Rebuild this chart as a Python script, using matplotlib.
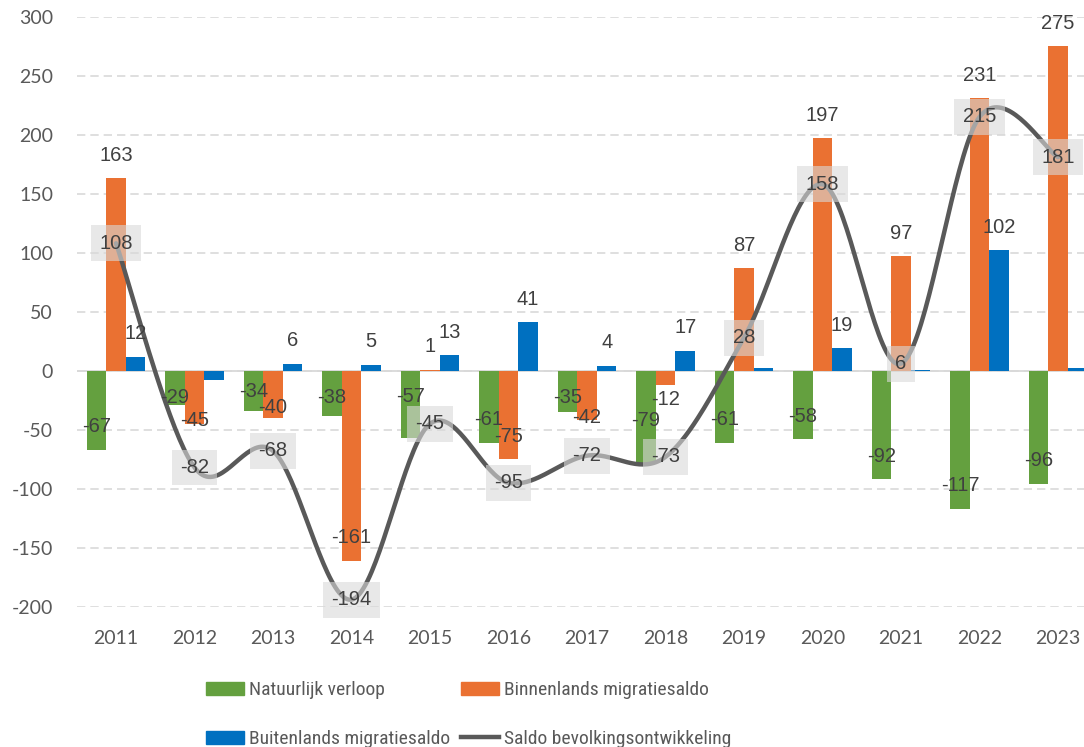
import numpy as np
import matplotlib.pyplot as plt
from matplotlib import font_manager as fm
from matplotlib.patches import Patch
from matplotlib.lines import Line2D

plt.rcParams['axes.unicode_minus'] = False

# Data
years = ['2011', '2012', '2013', '2014', '2015', '2016', '2017',
         '2018', '2019', '2020', '2021', '2022', '2023']
natuurlijk = [-67, -29, -34, -38, -57, -61, -35, -79, -61, -58, -92, -117, -96]
binnenlands = [163, -45, -40, -161, 1, -75, -42, -12, 87, 197, 97, 231, 275]
buitenlands = [12, -8, 6, 5, 13, 41, 4, 17, 2, 19, 1, 102, 2]
saldo = [108, -82, -68, -194, -45, -95, -72, -73, 28, 158, 6, 215, 181]

# labels that are not shown in the original
buiten_hidden = ['2012', '2019', '2021', '2023']

# colours
c_green = '#64A03F'
c_orange = '#EA7132'
c_blue = '#0070C0'
c_line = '#595959'
c_text = '#404040'

# label nudges (pixels above bar end) where Excel moved them around
default_off = 23
nudge = {
    ('nat', '2012'): 7, ('nat', '2013'): 19, ('nat', '2014'): 18,
    ('nat', '2015'): 41, ('nat', '2017'): 15, ('nat', '2018'): 43,
    ('bin', '2012'): 3, ('bin', '2013'): 10, ('bin', '2017'): 3,
    ('bin', '2018'): -15,
}


def narrow_font():
    # legend in the original uses a narrow face; take whatever is installed
    fonts = fm.fontManager.ttflist
    names = {f.name for f in fonts}
    for nm in ['Liberation Sans Narrow', 'Roboto Condensed', 'Open Sans Condensed',
               'Noto Sans Condensed', 'Arial Narrow']:
        if nm in names:
            return {'family': nm, 'size': 14}
    return {'family': 'Roboto', 'size': 12}


def smooth_curve(xs, ys, n=40):
    # Catmull-Rom style bezier, similar to Excel's smoothed line
    p = np.column_stack([xs, ys]).astype(float)
    p = np.vstack([p[0], p, p[-1]])
    out = []
    for i in range(1, len(p) - 2):
        p0, p1, p2, p3 = p[i - 1], p[i], p[i + 1], p[i + 2]
        c1 = p1 + (p2 - p0) / 6
        c2 = p2 - (p3 - p1) / 6
        t = np.linspace(0, 1, n)[:, None]
        seg = ((1 - t) ** 3 * p1 + 3 * (1 - t) ** 2 * t * c1
               + 3 * (1 - t) * t ** 2 * c2 + t ** 3 * p2)
        out.append(seg if i == 1 else seg[1:])
    out = np.vstack(out)
    return out[:, 0], out[:, 1]


W, H = 1084, 747
fig = plt.figure(figsize=(W / 100, H / 100), dpi=100)
ax = fig.add_axes([76.75 / W, 1 - 606.7 / H, (1097.25 - 76.75) / W, (606.7 - 16.7) / H])

x = np.arange(len(years))
bw = 0.25
ax.bar(x - bw, natuurlijk, bw, color=c_green, zorder=2)
ax.bar(x, binnenlands, bw, color=c_orange, zorder=2)
ax.bar(x + bw, buitenlands, bw, color=c_blue, zorder=2)

sx, sy = smooth_curve(x, saldo)
ax.plot(sx, sy, color=c_line, lw=3.2, zorder=3, solid_capstyle='round')

ax.set_xlim(-0.5, len(years) - 0.5)
ax.set_ylim(-200, 300)
ax.set_yticks(range(-200, 301, 50))
ax.set_xticks(x)
ax.set_xticklabels(years)

for s in ax.spines.values():
    s.set_visible(False)
ax.tick_params(length=0, labelsize=14, labelcolor='#595959')
ax.tick_params(axis='y', pad=17)
ax.tick_params(axis='x', pad=17)
for lab in ax.get_xticklabels() + ax.get_yticklabels():
    lab.set_fontfamily('Lato')

ax.set_axisbelow(True)
ax.yaxis.grid(True, color='#D9D9D9', lw=1.2, linestyle=(0, (5, 3)))
ax.axhline(0, color='#D9D9D9', lw=1.3, zorder=1)

lab_font = dict(family='Liberation Sans', size=14.5, color=c_text)


def put_label(xpos, val, key):
    off = nudge.get(key, default_off)
    ax.annotate(str(val), (xpos, val), xytext=(0, off * 0.72),
                textcoords='offset points', ha='center', va='center',
                zorder=4, **lab_font)


for i, yr in enumerate(years):
    put_label(x[i] - bw, natuurlijk[i], ('nat', yr))
    put_label(x[i], binnenlands[i], ('bin', yr))
    if yr not in buiten_hidden:
        put_label(x[i] + bw, buitenlands[i], ('bui', yr))
    ax.text(x[i], saldo[i], str(saldo[i]), ha='center', va='center', zorder=5,
            bbox=dict(boxstyle='square,pad=0.42', fc='#D9D9D9', ec='none', alpha=0.6),
            **lab_font)

leg_font = narrow_font()
h_nat = Patch(color=c_green)
h_bin = Patch(color=c_orange)
h_bui = Patch(color=c_blue)
h_sal = Line2D([], [], color=c_line, lw=3.2)

common = dict(loc='upper left', frameon=False, borderpad=0, borderaxespad=0,
              handlelength=1.95, handleheight=0.65, handletextpad=0.25,
              labelspacing=1.6, prop=leg_font, labelcolor='#595959')
leg1 = fig.legend([h_nat, h_bui], ['Natuurlijk verloop', 'Buitenlands migratiesaldo'],
                  bbox_to_anchor=(206 / W, 1 - 681 / H), **common)
leg2 = fig.legend([h_bin, h_sal], ['Binnenlands migratiesaldo', 'Saldo bevolkingsontwikkeling'],
                  bbox_to_anchor=(461 / W, 1 - 681 / H), **common)

fig.savefig('out.png', dpi=100)
